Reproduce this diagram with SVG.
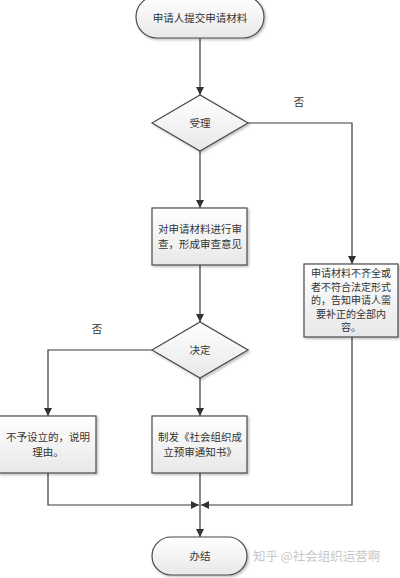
<svg xmlns="http://www.w3.org/2000/svg" width="400" height="578" viewBox="0 0 400 578">
<style>
.n{fill:url(#g);stroke:#4a4a4a;stroke-width:1.2;filter:url(#sh)}
.t{font-family:"Noto Sans CJK SC","Noto Sans",sans-serif;font-size:10.5px;fill:#333;text-anchor:middle}
.s{font-size:10px}
.c{fill:none;stroke:#3a3a3a;stroke-width:1.2}
.w{font-family:"Noto Sans CJK SC","Noto Sans",sans-serif;font-size:12.5px;fill:#c8c8c8}
</style>
<defs>
<linearGradient id="g" x1="0" y1="0" x2="0" y2="1">
<stop offset="0" stop-color="#ffffff"/>
<stop offset="1" stop-color="#e8e8e8"/>
</linearGradient>
<filter id="sh" x="-10%" y="-10%" width="130%" height="130%">
<feDropShadow dx="1.5" dy="1.5" stdDeviation="1.2" flood-color="#000" flood-opacity="0.25"/>
</filter>
<marker id="a" viewBox="0 0 10 10" refX="10" refY="5" markerWidth="8" markerHeight="8" markerUnits="userSpaceOnUse" orient="auto">
<path d="M0,0 L10,5 L0,10 z" fill="#333"/>
</marker>
</defs>
<rect width="400" height="578" fill="#fff"/>
<g id="connectors">
<path class="c" d="M200,38 V95" marker-end="url(#a)"/>
<path class="c" d="M200,151 V208" marker-end="url(#a)"/>
<path class="c" d="M248,123 H352 V264" marker-end="url(#a)"/>
<path class="c" d="M200,265 V322" marker-end="url(#a)"/>
<path class="c" d="M152,350 H48 V416" marker-end="url(#a)"/>
<path class="c" d="M200,378 V416" marker-end="url(#a)"/>
<path class="c" d="M48,473 V505 H199" marker-end="url(#a)"/>
<path class="c" d="M352,337 V505 H201" marker-end="url(#a)"/>
<path class="c" d="M200,473 V537" marker-end="url(#a)"/>
<text class="t" x="299" y="106">否</text>
<text class="t" x="97" y="333">否</text>
</g>
<g id="start">
<rect class="n" x="136" y="-4" width="128" height="42" rx="21"/>
<text class="t" x="200" y="22">申请人提交申请材料</text>
</g>
<g id="accept">
<path class="n" d="M152,123 L200,95 L248,123 L200,151 Z"/>
<text class="t" x="200" y="127">受理</text>
</g>
<g id="review">
<rect class="n" x="152" y="208" width="95" height="57"/>
<text class="t" x="200" y="233">对申请材料进行审</text>
<text class="t" x="200" y="248">查，形成审查意见</text>
</g>
<g id="incomplete">
<rect class="n" x="304" y="264" width="94" height="73"/>
<text class="t s" x="351" y="277">申请材料不齐全或</text>
<text class="t s" x="351" y="290.5">者不符合法定形式</text>
<text class="t s" x="351" y="304">的，告知申请人需</text>
<text class="t s" x="351" y="317.5">要补正的全部内</text>
<text class="t s" x="351" y="331">容。</text>
</g>
<g id="decide">
<path class="n" d="M152,350 L200,322 L248,350 L200,378 Z"/>
<text class="t" x="200" y="354">决定</text>
</g>
<g id="reject">
<rect class="n" x="-1" y="416" width="97" height="57"/>
<text class="t" x="48" y="441">不予设立的，说明</text>
<text class="t" x="48" y="456">理由。</text>
</g>
<g id="issue">
<rect class="n" x="152" y="416" width="95" height="57"/>
<text class="t" x="200" y="441">制发《社会组织成</text>
<text class="t" x="200" y="456">立预审通知书》</text>
</g>
<g id="end">
<rect class="n" x="152" y="537" width="95" height="38" rx="19"/>
<text class="t" x="200" y="560">办结</text>
</g>
<text class="w" x="253" y="561">知乎 @社会组织运营啊</text>
</svg>
